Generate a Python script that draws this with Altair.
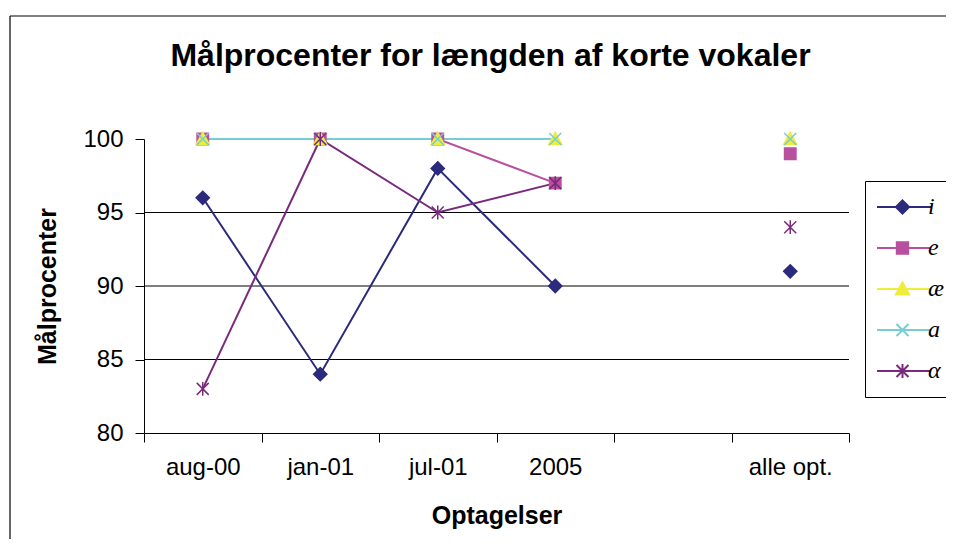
import altair as alt
import pandas as pd

# ---- data ----
categories = ["aug-00", "jan-01", "jul-01", "2005", " ", "alle opt."]
series = ["i", "e", "æ", "a", "α"]
i_vals = [96, 84, 98, 90, None, 91]
e_vals = [100, 100, 100, 97, None, 99]
ae_vals = [100, 100, 100, 100, None, 100]
a_vals = [100, 100, 100, 100, None, 100]
alpha_vals = [83, 100, 95, 97, None, 94]
y_ticks = [80, 85, 90, 95, 100]
grid_vals = [85, 90, 95]

colors = ["#2b2a7c", "#b8509f", "#eeee3a", "#77ccd6", "#7a2a7c"]
kinds = ["diamond", "square", "triangle", "x", "asterisk"]

codes = [f"s{n + 1}" for n in range(len(series))]  # sortable keys, drawing order

rows = []
for code, kind, vals in zip(codes, kinds, [i_vals, e_vals, ae_vals, a_vals, alpha_vals]):
    for idx, (c, v) in enumerate(zip(categories, vals)):
        if v is not None:
            rows.append({"kategori": c, "serie": code, "form": kind, "procent": v, "idx": idx})
df = pd.DataFrame(rows)


# marker shapes (unit square -1..1)
def marker(kind, cx=0.0):
    if kind == "diamond":
        return f"M{cx},-1.1L{cx+1.1},0L{cx},1.1L{cx-1.1},0Z"
    if kind == "square":
        return f"M{cx-0.95},-0.95H{cx+0.95}V0.95H{cx-0.95}Z"
    if kind == "triangle":
        return f"M{cx},-1.1L{cx+1.1},0.9H{cx-1.1}Z"
    if kind == "x":
        return f"M{cx-1},-1L{cx+1},1M{cx-1},1L{cx+1},-1"
    return f"M{cx-1},-1L{cx+1},1M{cx-1},1L{cx+1},-1M{cx},-1.15V1.15"


plot_shapes = [marker(k) for k in kinds]
legend_shapes = ["M-2,0H7.0" + marker(k, 2.25) for k in kinds]

sym_expr = ""
label_expr = ""
for code, p, name in zip(codes, legend_shapes, series):
    sym_expr += f"datum.value === '{code}' ? '{p}' : "
    label_expr += f"datum.value === '{code}' ? '{name}' : "
sym_expr += "'circle'"
label_expr += "''"

color_scale = alt.Scale(domain=codes, range=colors)

X = alt.X(
    "kategori:N",
    sort=categories,
    scale=alt.Scale(type="band", domain=categories, paddingInner=0, paddingOuter=0),
    axis=alt.Axis(
        title="Optagelser", labelAngle=0, tickBand="extent", tickSize=9,
        labelPadding=13, labelFontSize=24, titleFontSize=25, titleFontWeight="bold",
        titlePadding=24, grid=False, domainColor="black", tickColor="black",
        labelColor="black", titleColor="black", labelFont="Liberation Sans",
        titleFont="Liberation Sans",
    ),
)
Y = alt.Y(
    "procent:Q",
    scale=alt.Scale(domain=[80, 100], zero=False, nice=False),
    axis=alt.Axis(
        title="Målprocenter", values=y_ticks, grid=False, tickSize=9,
        labelPadding=12, labelFontSize=24, titleFontSize=25, titleFontWeight="bold",
        titlePadding=22, domainColor="black", tickColor="black",
        labelColor="black", titleColor="black", labelFont="Liberation Sans",
        titleFont="Liberation Sans",
    ),
)

legend = alt.Legend(
    title=None, orient="none", legendX=721, legendY=42,
    symbolType={"expr": sym_expr}, symbolSize=144, symbolStrokeWidth=2,
    symbolStrokeColor={"expr": "scale('color', datum.value)"},
    symbolOffset=-2, labelOffset=27, labelFont="Liberation Serif",
    labelFontStyle="italic", labelFontSize=24, labelColor="black",
    labelExpr=label_expr,
    padding=14, rowPadding=17, strokeColor="black", fillColor="white",
)

one = pd.DataFrame({"k": [0]})
frame_left = alt.Chart(one).mark_rule(color="black", strokeWidth=1.2).encode(
    x=alt.value(-134), y=alt.value(-123), y2=alt.value(520)
)
frame_top = alt.Chart(one).mark_rule(color="black", strokeWidth=1.2).encode(
    x=alt.value(-134), x2=alt.value(900), y=alt.value(-123)
)

grid = alt.Chart(pd.DataFrame({"procent": grid_vals})).mark_rule(
    color="black", strokeWidth=1
).encode(y=Y)

lines = alt.Chart(df).transform_filter(
    alt.datum.kategori != "alle opt."
).mark_line(strokeWidth=2).encode(
    x=X, y=Y,
    color=alt.Color("serie:N", scale=color_scale, legend=legend),
    order=alt.Order("idx:Q"),
)

points = alt.Chart(df).mark_point(filled=True, opacity=1, size=144, strokeWidth=1.5).encode(
    x=X, y=Y,
    color=alt.Color("serie:N", scale=color_scale, legend=legend),
    stroke=alt.Stroke("serie:N", scale=alt.Scale(domain=codes, range=colors), legend=None),
    shape=alt.Shape("form:N", scale=alt.Scale(domain=kinds, range=plot_shapes), legend=None),
)

chart = alt.layer(frame_left, frame_top, grid, lines, points).properties(
    width=705, height=294,
    title=alt.TitleParams(
        "Målprocenter for længden af korte vokaler", fontSize=32, fontWeight="bold",
        font="Liberation Sans", color="black", anchor="middle", frame="group", dy=62,
        dx=-6,
    ),
    autosize=alt.AutoSizeParams(type="none"),
    padding={"left": 136, "top": 131, "right": 97, "bottom": 106},
).configure_view(strokeWidth=0)

chart.save("out.html", embed_options={"renderer": "svg", "actions": False})
